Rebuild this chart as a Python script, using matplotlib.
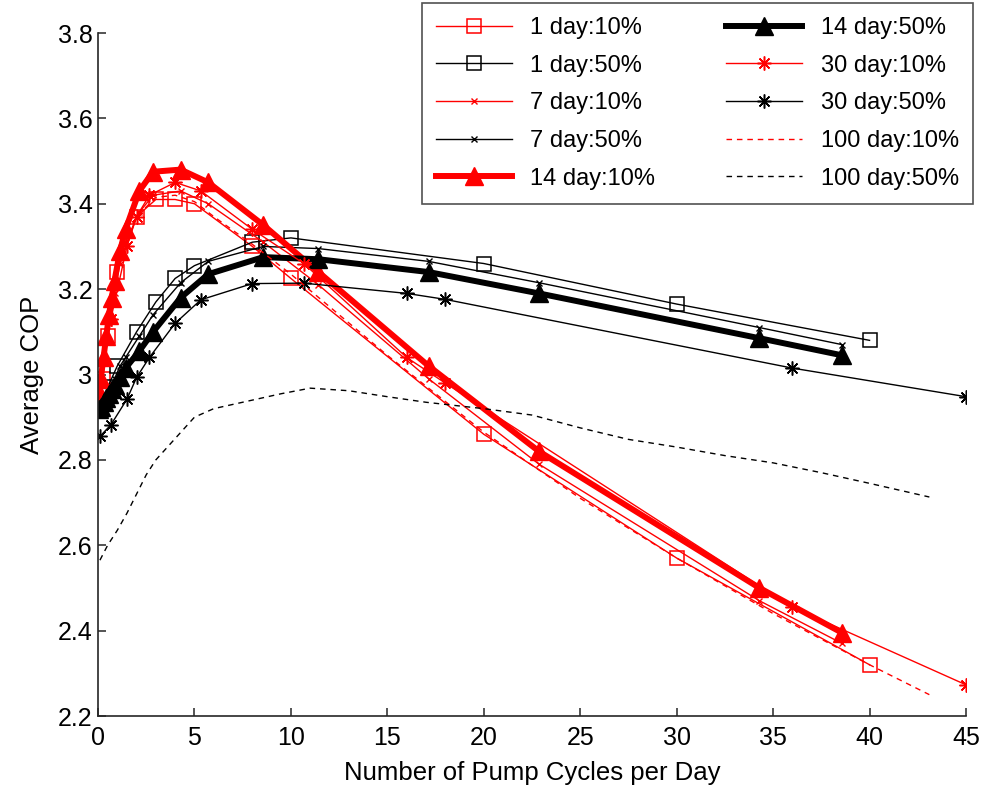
import numpy as np
from matplotlib import pyplot as plt

plt.rcParams['font.family'] = ['Liberation Sans', 'DejaVu Sans']

# =============================================================================
# Data: average COP vs pump cycles per day
# =============================================================================
# 1 day runs
x_1day = [0.25, 0.5, 1, 2, 3, 4, 5, 8, 10, 20, 30, 40]
cop_1day_10 = [2.99, 3.09, 3.24, 3.37, 3.41, 3.41, 3.40, 3.30, 3.225, 2.86, 2.57, 2.32]
cop_1day_50 = [2.93, 2.97, 3.02, 3.10, 3.17, 3.225, 3.255, 3.31, 3.32, 3.26, 3.165, 3.08]

# 7 day runs
x_7day = [0.143, 0.286, 0.429, 0.571, 0.857, 1.143, 1.429, 2.143, 2.857,
          4.286, 5.714, 8.571, 11.43, 17.14, 22.86, 34.29, 38.57]
cop_7day_10 = [2.98, 3.03, 3.08, 3.12, 3.19, 3.26, 3.31, 3.38, 3.42,
               3.43, 3.40, 3.31, 3.21, 2.99, 2.79, 2.47, 2.37]
cop_7day_50 = [2.92, 2.935, 2.95, 2.965, 2.99, 3.02, 3.04, 3.09, 3.14,
               3.215, 3.265, 3.30, 3.295, 3.265, 3.215, 3.11, 3.07]

# 14 day runs
x_14day = [0.071, 0.143, 0.286, 0.429, 0.571, 0.714, 0.857, 1.143, 1.429, 2.143,
           2.857, 4.286, 5.714, 8.571, 11.43, 17.14, 22.86, 34.29, 38.57]
cop_14day_10 = [2.96, 2.99, 3.04, 3.09, 3.14, 3.18, 3.22, 3.29, 3.34, 3.43,
                3.475, 3.48, 3.45, 3.35, 3.24, 3.02, 2.82, 2.50, 2.395]
cop_14day_50 = [2.92, 2.925, 2.935, 2.945, 2.955, 2.965, 2.975, 2.995, 3.015, 3.055,
                3.10, 3.18, 3.235, 3.275, 3.27, 3.24, 3.19, 3.085, 3.045]

# 30 day runs
x_30day = [0.1, 0.667, 1.5, 2, 2.667, 4, 5.333, 8, 10.67, 16, 18, 36, 45]
cop_30day_10 = [2.98, 3.13, 3.30, 3.37, 3.42, 3.45, 3.43, 3.34, 3.26, 3.04, 2.98, 2.455, 2.273]
cop_30day_50 = [2.855, 2.882, 2.942, 2.993, 3.04, 3.12, 3.175, 3.213, 3.214, 3.19, 3.176, 3.015, 2.948]

# 100 day runs
x_100day_10 = [0.1, 0.5, 1, 1.5, 2, 3, 4, 5, 6, 8, 10, 12.5, 15, 17.5, 20,
               25, 30, 35, 40, 43.1]
cop_100day_10 = [2.97, 3.10, 3.24, 3.32, 3.37, 3.415, 3.42, 3.405, 3.37, 3.305, 3.235,
                 3.14, 3.045, 2.955, 2.865, 2.71, 2.57, 2.44, 2.32, 2.25]
x_100day_50 = [0.1, 0.5, 1, 1.5, 2, 2.5, 3, 4, 5, 6, 7, 8, 9.5, 11, 13, 15, 17,
               20, 22.5, 25, 27.5, 30, 32.5, 35, 37.5, 40, 43.1]
cop_100day_50 = [2.565, 2.60, 2.635, 2.675, 2.72, 2.765, 2.80, 2.85, 2.90, 2.92, 2.93,
                 2.94, 2.955, 2.968, 2.962, 2.948, 2.935, 2.92, 2.905, 2.875, 2.848,
                 2.83, 2.81, 2.793, 2.77, 2.745, 2.713]

x_ticks = np.arange(0, 46, 5)
y_ticks = [2.2, 2.4, 2.6, 2.8, 3.0, 3.2, 3.4, 3.6, 3.8]
y_ticklabels = ['2.2', '2.4', '2.6', '2.8', '3', '3.2', '3.4', '3.6', '3.8']

# =============================================================================
# Plot
# =============================================================================
FS = 18
ast = (8, 2, 0)   # eight-spoke asterisk
red = (1, 0, 0)
blk = (0, 0, 0)

fig = plt.figure(figsize=(9.84, 7.92), dpi=100)
ax = fig.add_axes([98/984, 1-716/792, (966-98)/984, (716-33)/792])

thin = dict(lw=1.0)
ax.plot(x_1day, cop_1day_10, '-s', color=red, mfc='none', ms=10.5, mew=1.1, label='1 day:10%', **thin)
ax.plot(x_1day, cop_1day_50, '-s', color=blk, mfc='none', ms=10.5, mew=1.1, label='1 day:50%', **thin)
ax.plot(x_7day, cop_7day_10, '-x', color=red, ms=5, mew=1.0, label='7 day:10%', **thin)
ax.plot(x_7day, cop_7day_50, '-x', color=blk, ms=5, mew=1.0, label='7 day:50%', **thin)
ax.plot(x_14day, cop_14day_10, '-^', color=red, ms=13, lw=4.3, label='14 day:10%')
ax.plot(x_14day, cop_14day_50, '-^', color=blk, ms=13, lw=4.3, label='14 day:50%')
ax.plot(x_30day, cop_30day_10, '-', marker=ast, color=red, ms=10, mew=1.1, label='30 day:10%', **thin)
ax.plot(x_30day, cop_30day_50, '-', marker=ast, color=blk, ms=10, mew=1.1, label='30 day:50%', **thin)
ax.plot(x_100day_10, cop_100day_10, '--', color=red, dashes=(4, 3.5), label='100 day:10%', **thin)
ax.plot(x_100day_50, cop_100day_50, '--', color=blk, dashes=(4, 3.5), label='100 day:50%', **thin)

ax.set_xlim(0, 45)
ax.set_ylim(2.2, 3.8)
ax.set_xticks(x_ticks)
ax.set_yticks(y_ticks)
ax.set_yticklabels(y_ticklabels)
ax.tick_params(direction='in', length=6, width=1.1, labelsize=FS, color='#262626')
ax.tick_params(axis='x', pad=7)
ax.tick_params(axis='y', pad=4)
for s in ['top', 'right']:
    ax.spines[s].set_visible(False)
for s in ['left', 'bottom']:
    ax.spines[s].set_linewidth(1.2)
    ax.spines[s].set_color('#262626')

ax.set_xlabel('Number of Pump Cycles per Day', fontsize=18.5, labelpad=8)
ax.set_ylabel('Average COP', fontsize=18.5, labelpad=10)

leg = ax.legend(ncol=2, loc='upper right', bbox_to_anchor=(973/984, 1-3/792),
                bbox_transform=fig.transFigure, fontsize=17, frameon=True,
                fancybox=False, handlelength=3.2, handletextpad=0.8,
                columnspacing=3.0, labelspacing=0.66, borderpad=0.6,
                borderaxespad=0)
leg.get_frame().set_edgecolor('#262626')
leg.get_frame().set_linewidth(1.2)

fig.savefig('out.png', dpi=100)
